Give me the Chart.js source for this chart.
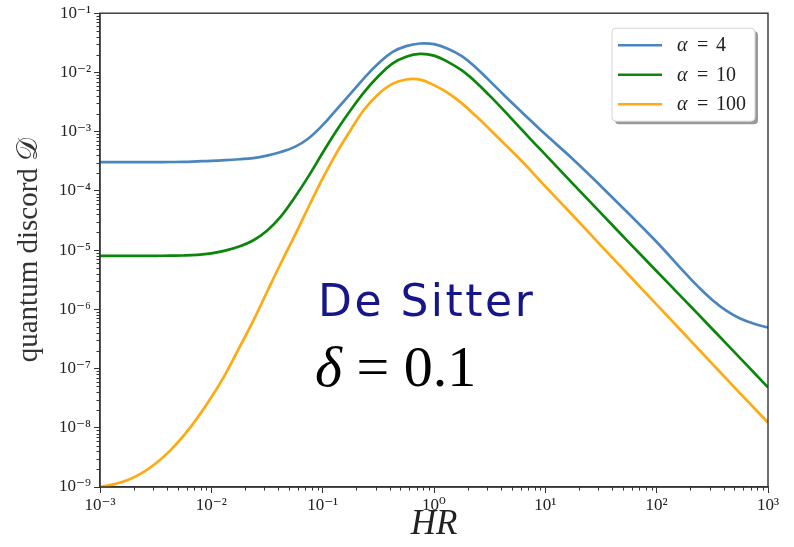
<!DOCTYPE html>
<html>
<head>
<meta charset="utf-8">
<script src="https://cdn.jsdelivr.net/npm/chart.js@4"></script>
<style>
  html, body { margin: 0; padding: 0; background: #fff; }
  #wrap { width: 794px; height: 547px; }
</style>
</head>
<body>
<div id="wrap"><canvas id="discord"></canvas></div>
<script>
// HR samples (log spaced) and discord values
const hrValues = [1e-3, 1.33e-3, 1.78e-3, 2.37e-3, 3.16e-3, 4.22e-3, 5.62e-3, 7.5e-3, 1e-2, 1.33e-2, 1.78e-2, 2.37e-2, 3.16e-2, 4.22e-2, 5.62e-2, 7.5e-2,
    0.1, 0.133, 0.178, 0.237, 0.316, 0.422, 0.562, 0.75, 1, 1.33, 1.78, 2.37, 3.16, 4.22, 5.62, 7.5,
    10, 17.8, 31.6, 56.2, 100, 178, 237, 316, 422, 562, 750, 1000];
const discordAlpha4 = [3.05e-4, 3.05e-4, 3.05e-4, 3.05e-4, 3.05e-4, 3.07e-4, 3.09e-4, 3.15e-4, 3.21e-4, 3.3e-4, 3.42e-4, 3.58e-4, 3.94e-4, 4.53e-4, 5.54e-4, 7.75e-4,
    1.29e-3, 2.36e-3, 4.38e-3, 8.1e-3, 1.41e-2, 2.2e-2, 2.78e-2, 3.08e-2, 3.0e-2, 2.52e-2, 1.88e-2, 1.21e-2, 7.2e-3, 4.2e-3, 2.5e-3, 1.5e-3,
    9.0e-4, 3.4e-4, 1.2e-4, 4.1e-5, 1.37e-5, 4.2e-6, 2.39e-6, 1.44e-6, 9.5e-7, 7.0e-7, 5.7e-7, 4.93e-7];
const discordAlpha10 = [8.0e-6, 8.0e-6, 8.0e-6, 8.0e-6, 8.0e-6, 8.05e-6, 8.1e-6, 8.3e-6, 8.8e-6, 9.8e-6, 1.15e-5, 1.45e-5, 2.12e-5, 3.7e-5, 7.8e-5, 1.79e-4,
    4.4e-4, 1.04e-3, 2.3e-3, 4.7e-3, 8.6e-3, 1.41e-2, 1.84e-2, 2.05e-2, 1.92e-2, 1.51e-2, 1.08e-2, 6.9e-3, 4.05e-3, 2.31e-3, 1.29e-3, 7.2e-4,
    4.1e-4, 1.3e-4, 4.2e-5, 1.35e-5, 4.4e-6, 1.43e-6, 8.2e-7, 4.65e-7, 2.64e-7, 1.5e-7, 8.5e-8, 4.8e-8];
const discordAlpha100 = [1.0e-9, 1.11e-9, 1.31e-9, 1.71e-9, 2.49e-9, 4.03e-9, 7.28e-9, 1.47e-8, 3.27e-8, 7.9e-8, 2.23e-7, 6.3e-7, 1.96e-6, 6.05e-6, 1.77e-5, 5.45e-5,
    1.62e-4, 4.35e-4, 1.06e-3, 2.39e-3, 4.3e-3, 6.4e-3, 7.6e-3, 7.55e-3, 6.1e-3, 4.5e-3, 3.0e-3, 1.85e-3, 1.1e-3, 6.4e-4, 3.77e-4, 2.14e-4,
    1.19e-4, 3.8e-5, 1.19e-5, 3.8e-6, 1.2e-6, 3.8e-7, 2.14e-7, 1.2e-7, 6.75e-8, 3.8e-8, 2.16e-8, 1.23e-8];
const seriesLabels = ['α = 4', 'α = 10', 'α = 100'];
const xExponents = [-3, -2, -1, 0, 1, 2, 3];
const yExponents = [-9, -8, -7, -6, -5, -4, -3, -2, -1];

const SUP = { '-': '⁻', '0': '⁰', '1': '¹', '2': '²', '3': '³', '4': '⁴', '5': '⁵', '6': '⁶', '7': '⁷', '8': '⁸', '9': '⁹' };
const powLabel = (v) => {
    const e = Math.round(Math.log10(v));
    return '10' + String(e).split('').map(c => SUP[c]).join('');
};
const SERIF = "'Liberation Serif', 'DejaVu Serif', serif";
const AXIS = '#333';

const toPoints = (ys) => hrValues.map((x, i) => ({ x, y: ys[i] }));

// minor log ticks, frame, legend box and the two text notes
const decorations = {
    id: 'decorations',
    afterDatasetsDraw(chart) {
        const { ctx, chartArea: a, scales } = chart;
        ctx.save();
        ctx.strokeStyle = AXIS;
        ctx.lineWidth = 1;
        ctx.beginPath();
        for (let e = -3; e < 3; e++) {
            for (let m = 2; m < 10; m++) {
                const px = Math.round(scales.x.getPixelForValue(m * 10 ** e)) + 0.5;
                ctx.moveTo(px, a.bottom);
                ctx.lineTo(px, a.bottom + 3.5);
            }
        }
        for (let e = -9; e < -1; e++) {
            for (let m = 2; m < 10; m++) {
                const py = Math.round(scales.y.getPixelForValue(m * 10 ** e)) + 0.5;
                ctx.moveTo(a.left, py);
                ctx.lineTo(a.left - 3.5, py);
            }
        }
        ctx.stroke();
        ctx.lineWidth = 1.4;
        ctx.strokeRect(a.left, a.top, a.right - a.left, a.bottom - a.top);

        // legend
        const bx = a.right - 156, by = a.top + 15, bw = 143, bh = 93;
        ctx.fillStyle = 'rgba(0,0,0,0.4)';
        ctx.beginPath();
        ctx.roundRect(bx + 3, by + 3, bw, bh, 4);
        ctx.fill();
        ctx.fillStyle = '#fff';
        ctx.strokeStyle = '#d4d4d4';
        ctx.lineWidth = 1;
        ctx.beginPath();
        ctx.roundRect(bx, by, bw, bh, 4);
        ctx.fill();
        ctx.stroke();
        chart.data.datasets.forEach((ds, i) => {
            const y = by + 17 + i * 29.5;
            ctx.strokeStyle = ds.borderColor;
            ctx.lineWidth = 2.6;
            ctx.beginPath();
            ctx.moveTo(bx + 6, y);
            ctx.lineTo(bx + 50, y);
            ctx.stroke();
            const [sym, , num] = ds.label.split(' ');
            ctx.fillStyle = '#222';
            ctx.textBaseline = 'middle';
            ctx.font = 'italic 20px ' + SERIF;
            ctx.fillText(sym, bx + 65, y + 1);
            ctx.font = '20px ' + SERIF;
            ctx.fillText('=', bx + 85, y + 1);
            ctx.fillText(num, bx + 104, y + 1);
        });

        // notes
        ctx.fillStyle = '#16168a';
        ctx.textBaseline = 'alphabetic';
        ctx.font = "44px 'DejaVu Sans', sans-serif";
        ctx.letterSpacing = '2.5px';
        ctx.fillText('De Sitter', a.left + 218, a.top + 303);
        ctx.letterSpacing = '0px';
        ctx.fillStyle = '#000';
        ctx.font = 'italic 58px ' + SERIF;
        ctx.fillText('δ', a.left + 215, a.top + 373);
        const dw = ctx.measureText('δ').width;
        ctx.font = '58px ' + SERIF;
        ctx.fillText(' = 0.1', a.left + 215 + dw, a.top + 373);
        ctx.restore();
    }
};

new Chart(document.getElementById('discord'), {
    type: 'line',
    data: {
        datasets: [
            { label: seriesLabels[0], data: toPoints(discordAlpha4), borderColor: '#4a86bd' },
            { label: seriesLabels[1], data: toPoints(discordAlpha10), borderColor: '#0a870a' },
            { label: seriesLabels[2], data: toPoints(discordAlpha100), borderColor: '#ffaa10' }
        ].map(ds => Object.assign(ds, {
            borderWidth: 2.7,
            pointRadius: 0,
            fill: false,
            tension: 0.4
        }))
    },
    options: {
        responsive: true,
        maintainAspectRatio: false,
        animation: false,
        layout: { padding: { top: 10, right: 26, left: 0, bottom: 0 } },
        plugins: {
            legend: { display: false },
            tooltip: { enabled: false }
        },
        scales: {
            x: {
                type: 'logarithmic',
                min: 1e-3,
                max: 1e3,
                afterBuildTicks(scale) {
                    scale.ticks = xExponents.map(e => ({ value: 10 ** e }));
                },
                afterFit(scale) { scale.height = 60; },
                ticks: {
                    autoSkip: false,
                    maxRotation: 0,
                    padding: 2,
                    color: '#222',
                    font: { family: SERIF, size: 17 },
                    callback: (v) => powLabel(v)
                },
                grid: { drawOnChartArea: false, tickLength: 6, tickColor: AXIS, tickWidth: 1 },
                border: { color: AXIS, width: 1.4 },
                title: {
                    display: true,
                    text: 'HR',
                    color: '#222',
                    font: { family: SERIF, size: 35, style: 'italic', lineHeight: 1 },
                    padding: { top: 0, bottom: 5 }
                }
            },
            y: {
                type: 'logarithmic',
                min: 1e-9,
                max: 1e-1,
                afterBuildTicks(scale) {
                    scale.ticks = yExponents.map(e => ({ value: 10 ** e }));
                },
                afterFit(scale) { scale.width = 100; },
                ticks: {
                    autoSkip: false,
                    padding: 3,
                    color: '#222',
                    font: { family: SERIF, size: 17 },
                    callback: (v) => powLabel(v)
                },
                grid: { drawOnChartArea: false, tickLength: 6, tickColor: AXIS, tickWidth: 1 },
                border: { color: AXIS, width: 1.4 },
                title: {
                    display: true,
                    text: 'quantum discord 𝒟',
                    color: '#333',
                    font: { family: SERIF, size: 29, lineHeight: 1 },
                    padding: { top: 15, bottom: 0 }
                }
            }
        }
    },
    plugins: [decorations]
});
</script>
</body>
</html>
